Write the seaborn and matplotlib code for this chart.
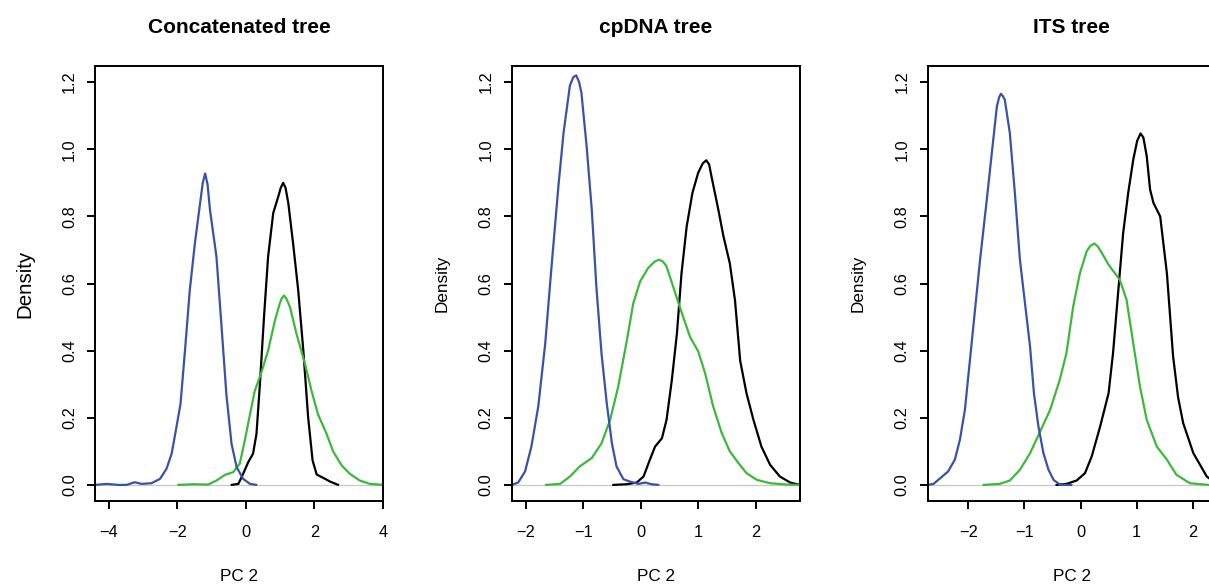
import seaborn as sns
import matplotlib.pyplot as plt
import pandas as pd

# Density curves, one x/y list per curve.
titles = ["Concatenated tree", "cpDNA tree", "ITS tree"]

# Concatenated tree
concat_blue_x = [-4.41, -4.07, -3.73, -3.49, -3.25, -3.05, -2.76, -2.51, -2.32, -2.17, -2.03, -1.91, -1.78,
                 -1.64, -1.49, -1.35, -1.26, -1.19, -1.12, -1.05, -0.86, -0.71, -0.57, -0.42, -0.27, -0.08,
                 0.12, 0.31]
concat_blue_y = [0.0, 0.003, 0.0, 0.0, 0.008, 0.003, 0.005, 0.018, 0.048, 0.093, 0.172, 0.242, 0.40,
                 0.58, 0.72, 0.83, 0.90, 0.928, 0.895, 0.82, 0.68, 0.47, 0.27, 0.123, 0.053, 0.018,
                 0.003, 0.0]
concat_black_x = [-0.42, -0.22, -0.08, 0.07, 0.21, 0.31, 0.41, 0.53, 0.65, 0.80, 0.95, 1.02, 1.09, 1.16, 1.24,
                  1.38, 1.53, 1.68, 1.82, 1.95, 2.07, 2.26, 2.46, 2.70]
concat_black_y = [0.0, 0.003, 0.033, 0.068, 0.093, 0.152, 0.30, 0.50, 0.68, 0.81, 0.86, 0.885, 0.90, 0.885,
                  0.84, 0.72, 0.58, 0.40, 0.202, 0.073, 0.031, 0.021, 0.01, 0.0]
concat_green_x = [-1.98, -1.54, -1.10, -0.86, -0.61, -0.37, -0.18, -0.03, 0.12, 0.26, 0.46, 0.65, 0.85, 0.99,
                  1.05, 1.11, 1.18, 1.29, 1.48, 1.73, 1.92, 2.11, 2.36, 2.55, 2.80, 3.04, 3.33, 3.63, 4.02]
concat_green_y = [0.0, 0.002, 0.001, 0.013, 0.03, 0.038, 0.063, 0.133, 0.21, 0.28, 0.337, 0.40, 0.49, 0.54,
                  0.556, 0.564, 0.556, 0.53, 0.45, 0.36, 0.28, 0.21, 0.152, 0.10, 0.058, 0.033, 0.013,
                  0.003, 0.0]

# cpDNA tree
cp_blue_x = [-2.24, -2.13, -2.01, -1.90, -1.78, -1.66, -1.55, -1.43, -1.34, -1.23, -1.17, -1.12, -1.07,
             -1.03, -0.94, -0.85, -0.77, -0.68, -0.59, -0.50, -0.42, -0.30, -0.19, -0.04, 0.08, 0.19, 0.31]
cp_blue_y = [0.0, 0.007, 0.04, 0.114, 0.234, 0.42, 0.65, 0.89, 1.05, 1.19, 1.215, 1.22, 1.20,
             1.168, 1.01, 0.82, 0.59, 0.39, 0.244, 0.124, 0.055, 0.017, 0.01, 0.003, 0.007, 0.002, 0.0]
cp_black_x = [-0.48, -0.24, -0.07, 0.05, 0.16, 0.25, 0.37, 0.45, 0.54, 0.63, 0.71, 0.80, 0.90, 1.00, 1.08,
              1.14, 1.19, 1.23, 1.35, 1.44, 1.55, 1.64, 1.73, 1.84, 1.96, 2.10, 2.25, 2.42, 2.60, 2.77]
cp_black_y = [0.0, 0.002, 0.007, 0.025, 0.075, 0.114, 0.139, 0.194, 0.31, 0.45, 0.63, 0.77, 0.87, 0.93, 0.958,
              0.967, 0.955, 0.92, 0.82, 0.74, 0.66, 0.55, 0.37, 0.273, 0.194, 0.114, 0.06, 0.025, 0.007, 0.0]
cp_green_x = [-1.65, -1.40, -1.23, -1.06, -0.85, -0.68, -0.53, -0.39, -0.24, -0.13, -0.01, 0.13, 0.24, 0.32,
              0.39, 0.45, 0.60, 0.74, 0.86, 1.00, 1.12, 1.26, 1.41, 1.55, 1.70, 1.84, 2.02, 2.25, 2.54, 2.77]
cp_green_y = [0.0, 0.003, 0.025, 0.055, 0.08, 0.124, 0.194, 0.293, 0.43, 0.54, 0.606, 0.646, 0.665, 0.671,
              0.665, 0.651, 0.572, 0.50, 0.44, 0.398, 0.333, 0.234, 0.154, 0.10, 0.065, 0.035, 0.015,
              0.005, 0.001, 0.0]

# ITS tree
its_blue_x = [-2.72, -2.62, -2.50, -2.36, -2.24, -2.15, -2.06, -1.97, -1.88, -1.79, -1.67, -1.58, -1.49,
              -1.45, -1.42, -1.39, -1.35, -1.26, -1.17, -1.08, -0.99, -0.90, -0.83, -0.75, -0.66, -0.57,
              -0.48, -0.37, -0.25, -0.16]
its_blue_y = [0.0, 0.003, 0.02, 0.04, 0.075, 0.134, 0.224, 0.373, 0.522, 0.671, 0.85, 0.99, 1.128,
              1.155, 1.165, 1.16, 1.148, 1.049, 0.87, 0.671, 0.542, 0.413, 0.273, 0.174, 0.094, 0.045,
              0.015, 0.001, 0.0, 0.0]
its_black_x = [-0.43, -0.25, -0.07, 0.08, 0.20, 0.35, 0.50, 0.58, 0.67, 0.76, 0.85, 0.94, 1.01, 1.07, 1.12,
               1.18, 1.24, 1.30, 1.42, 1.54, 1.65, 1.74, 1.83, 2.01, 2.25, 2.43]
its_black_y = [0.0, 0.003, 0.013, 0.035, 0.085, 0.174, 0.273, 0.393, 0.572, 0.75, 0.87, 0.969, 1.025, 1.047,
               1.035, 0.98, 0.88, 0.84, 0.80, 0.63, 0.383, 0.26, 0.184, 0.095, 0.025, 0.003]
its_green_x = [-1.73, -1.44, -1.26, -1.08, -0.90, -0.72, -0.54, -0.37, -0.25, -0.13, -0.01, 0.11, 0.18, 0.25,
               0.31, 0.38, 0.50, 0.70, 0.82, 0.94, 1.06, 1.18, 1.36, 1.54, 1.71, 1.95, 2.28]
its_green_y = [0.0, 0.003, 0.013, 0.045, 0.094, 0.159, 0.224, 0.313, 0.393, 0.532, 0.631, 0.696, 0.713, 0.719,
               0.710, 0.691, 0.656, 0.611, 0.552, 0.422, 0.293, 0.194, 0.114, 0.075, 0.03, 0.005, 0.0]

x_limits = [(-4.41, 4.02), (-2.243, 2.77), (-2.724, 2.415)]
x_ticks = [[-4, -2, 0, 2, 4], [-2, -1, 0, 1, 2], [-2, -1, 0, 1, 2]]
y_ticks = [0.0, 0.2, 0.4, 0.6, 0.8, 1.0, 1.2]

curves = [
    [("black", concat_black_x, concat_black_y), ("green", concat_green_x, concat_green_y),
     ("blue", concat_blue_x, concat_blue_y)],
    [("black", cp_black_x, cp_black_y), ("green", cp_green_x, cp_green_y),
     ("blue", cp_blue_x, cp_blue_y)],
    [("black", its_black_x, its_black_y), ("green", its_green_x, its_green_y),
     ("blue", its_blue_x, its_blue_y)],
]
palette = {"black": "#000000", "green": "#3DB83D", "blue": "#3A52A6"}

sns.set_style("white")
plt.rcParams['font.family'] = ['Liberation Sans', 'DejaVu Sans']
plt.rcParams['text.color'] = 'black'
plt.rcParams['axes.labelcolor'] = 'black'
plt.rcParams['xtick.color'] = 'black'
plt.rcParams['ytick.color'] = 'black'

fig = plt.figure(figsize=(12.09, 5.84), dpi=100)
lefts = [0.0786, 0.4232, 0.7673]
density_sizes = [14.8, 12.3, 12.3]
density_pads = [20, 21, 21]

for i, left in enumerate(lefts):
    ax = fig.add_axes([left, 0.1421, 0.2385, 0.7449])
    ax.axhline(0, color="#C8C8C8", lw=0.9, zorder=1)
    for name, xs, ys in curves[i]:
        df = pd.DataFrame({"x": xs, "y": ys})
        sns.lineplot(data=df, x="x", y="y", ax=ax, color=palette[name], lw=1.6,
                     sort=False, estimator=None, solid_capstyle="round",
                     solid_joinstyle="round", zorder=2)
    ax.set_xlim(*x_limits[i])
    ax.set_ylim(-0.048, 1.248)
    ax.set_xticks(x_ticks[i])
    ax.set_yticks(y_ticks)
    ax.set_yticklabels([f"{v:.1f}" for v in y_ticks], rotation=90, va="center")
    for s in ax.spines.values():
        s.set_visible(True)
        s.set_color("black")
        s.set_linewidth(1.4)
    ax.tick_params(axis="both", direction="out", length=6, width=1.4, labelsize=11.8,
                   bottom=True, left=True, colors="black")
    ax.tick_params(axis="x", pad=11)
    ax.tick_params(axis="y", pad=7)
    ax.set_xlabel("PC 2", fontsize=12.3, labelpad=21)
    ax.set_ylabel("Density", fontsize=density_sizes[i], labelpad=density_pads[i])
    ax.set_title(titles[i], fontsize=15, fontweight="bold", pad=24)

plt.savefig("out.png", dpi=100)
